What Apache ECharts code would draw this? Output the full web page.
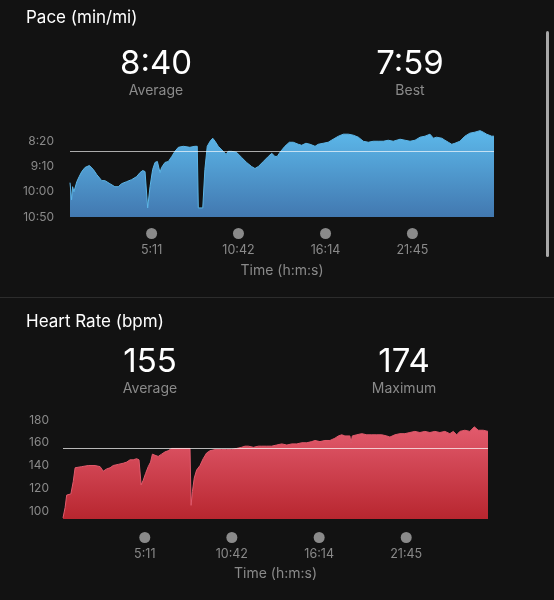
<!DOCTYPE html>
<html>
<head>
<meta charset="utf-8">
<script src="https://cdn.jsdelivr.net/npm/echarts@6/dist/echarts.min.js"></script>
<style>
html,body{margin:0;padding:0;background:#121212;}
#c{width:554px;height:600px;}
</style>
</head>
<body>
<div id="c"></div>
<script>
// ---- data (seconds) ----
const timeTicks = [311, 642, 974, 1305];
const paceTicks = [500, 550, 600, 650];
const hrTicks = [100, 120, 140, 160, 180];
const duration = 1616;

const paceTime = [0,6,10,15,26,35,45,57,74,89,102,121,133,152,171,184,197,216,235,254,267,277,286,292,296,305,315,324,333,343,349,362,375,388,400,413,432,457,476,485,489,506,508,514,523,534,544,553,565,584,595,603,616,635,654,673,692,705,718,737,756,769,781,790,800,819,836,851,870,883,899,915,934,946,965,984,1003,1023,1042,1061,1080,1099,1118,1137,1156,1175,1194,1213,1232,1258,1277,1296,1315,1334,1353,1372,1385,1397,1417,1429,1442,1455,1467,1486,1505,1524,1543,1563,1575,1588,1607,1616];
const paceSec = [582,616,590,600,580,570,560,552,548,556,566,578,578,584,590,590,584,580,576,570,562,558,560,560,632,590,556,542,540,562,552,542,540,530,520,512,510,512,510,510,632,632,632,556,510,500,494,500,510,520,526,520,520,522,532,542,550,554,550,540,530,524,530,530,522,510,502,502,506,508,504,506,510,506,504,502,496,490,486,486,488,492,500,502,500,500,500,498,500,496,498,500,498,492,490,486,494,492,494,498,502,506,504,500,490,484,482,479,482,486,490,490];
const paceAvg = 520;

const hrTime = [0,8,14,20,30,39,46,52,71,96,122,141,153,166,179,191,210,229,242,255,267,280,289,297,305,314,324,333,340,350,362,375,388,400,413,426,445,483,487,492,499,508,521,533,546,559,578,603,622,641,660,679,692,705,724,743,755,774,793,812,832,851,870,889,908,927,946,958,977,996,1015,1034,1047,1060,1072,1091,1095,1100,1117,1136,1155,1174,1193,1212,1231,1243,1262,1281,1300,1319,1338,1357,1376,1395,1414,1433,1452,1471,1484,1497,1509,1528,1547,1564,1579,1598,1616];
const hrBpm = [94,103,114,115,115,126,138,139,139,140,140,139,135,137,138,140,141,142,143,145,145,146,145,123,127,133,139,143,150,149,148,150,152,153,155,155,155,155,105,117,129,136,140,146,151,153,154,154,154,154,155,156,157,157,156,157,157,157,157,158,159,158,159,159,160,160,161,162,161,162,162,164,166,167,166,166,160,166,167,168,167,167,167,167,166,165,167,168,168,169,170,169,170,169,170,169,170,168,170,167,170,171,170,174,171,171,170];
const hrAvg = 155;

function pad(n){ return (n<10?'0':'') + n; }
function mmss(v){ v = Math.round(v); return Math.floor(v/60) + ':' + pad(v%60); }

const grey = '#8a8a8a';
const FONT = 'Inter, "Noto Sans", sans-serif';

function xAxisCfg(gridIndex, margin, gap){
  return {
    type:'value', gridIndex, min:0, max:duration,
    axisLine:{show:false}, axisTick:{show:false}, splitLine:{show:false},
    name:'Time (h:m:s)', nameLocation:'middle', nameGap: gap,
    nameTextStyle:{color:grey, fontSize:14, fontFamily:FONT},
    axisLabel:{
      customValues: timeTicks, margin: margin,
      formatter: v => '{d|}\n{t|' + mmss(v) + '}',
      rich:{
        d:{width:11, height:11, lineHeight:15, borderRadius:6, backgroundColor:grey},
        t:{color:grey, fontSize:12.5, lineHeight:18, fontFamily:FONT}
      }
    }
  };
}

const chart = echarts.init(document.getElementById('c'), null, {renderer:'canvas'});
const option = {
  backgroundColor:'#121212',
  animation:false,
  grid:[
    {left:70, width:424, top:116, height:101},
    {left:63, width:425, top:420, height:99}
  ],
  xAxis:[xAxisCfg(0, 9, 47), xAxisCfg(1, 11, 48)],
  yAxis:[
    {type:'value', gridIndex:0, inverse:true, min:450, max:650, interval:50,
     axisLine:{show:false}, axisTick:{show:false}, splitLine:{show:false},
     axisLabel:{color:grey, fontSize:12, margin:16, fontFamily:FONT,
       formatter: v => v===450 ? '' : mmss(v)}},
    {type:'value', gridIndex:1, min:93, max:180,
     axisLine:{show:false}, axisTick:{show:false}, splitLine:{show:false},
     axisLabel:{color:grey, fontSize:12, margin:14, fontFamily:FONT, customValues: hrTicks}}
  ],
  series:[
    {type:'line', xAxisIndex:0, yAxisIndex:0, symbol:'none',
     data: paceTime.map((t,i)=>[t, paceSec[i]]),
     lineStyle:{width:1, color:'#5cb6e8'},
     areaStyle:{origin:'end', opacity:1,
       color:new echarts.graphic.LinearGradient(0,0,0,1,[{offset:0,color:'#5cb8ea'},{offset:1,color:'#4278b0'}])},
     markLine:{silent:true, symbol:'none', label:{show:false},
       lineStyle:{color:'rgba(255,255,255,0.65)', width:1, type:'solid'},
       data:[{yAxis:paceAvg}]}
    },
    {type:'line', xAxisIndex:1, yAxisIndex:1, symbol:'none',
     data: hrTime.map((t,i)=>[t, hrBpm[i]]),
     lineStyle:{width:1, color:'#e05a6c'},
     areaStyle:{origin:'start', opacity:1,
       color:new echarts.graphic.LinearGradient(0,0,0,1,[{offset:0,color:'#e25b6d'},{offset:1,color:'#b8262f'}])},
     markLine:{silent:true, symbol:'none', label:{show:false},
       lineStyle:{color:'rgba(255,255,255,0.7)', width:1, type:'solid'},
       data:[{yAxis:hrAvg}]}
    }
  ],
  graphic:[
    {type:'text', x:26, y:18, style:{text:'Pace (min/mi)', fill:'#fff', font:'17px '+FONT, verticalAlign:'middle'}},
    {type:'text', x:156, y:64, style:{text:'8:40', fill:'#fff', font:'33px '+FONT, align:'center', verticalAlign:'middle'}},
    {type:'text', x:156, y:91, style:{text:'Average', fill:grey, font:'14px '+FONT, align:'center', verticalAlign:'middle'}},
    {type:'text', x:410, y:64, style:{text:'7:59', fill:'#fff', font:'33px '+FONT, align:'center', verticalAlign:'middle'}},
    {type:'text', x:410, y:91, style:{text:'Best', fill:grey, font:'14px '+FONT, align:'center', verticalAlign:'middle'}},
    {type:'rect', shape:{x:0, y:297, width:554, height:1}, style:{fill:'#2c2c2c'}},
    {type:'rect', shape:{x:546, y:31, width:3, height:226, r:1.5}, style:{fill:'#a8a8a8'}},
    {type:'text', x:26, y:322, style:{text:'Heart Rate (bpm)', fill:'#fff', font:'17px '+FONT, verticalAlign:'middle'}},
    {type:'text', x:150, y:362, style:{text:'155', fill:'#fff', font:'33px '+FONT, align:'center', verticalAlign:'middle'}},
    {type:'text', x:150, y:389, style:{text:'Average', fill:grey, font:'14px '+FONT, align:'center', verticalAlign:'middle'}},
    {type:'text', x:404, y:362, style:{text:'174', fill:'#fff', font:'33px '+FONT, align:'center', verticalAlign:'middle'}},
    {type:'text', x:404, y:389, style:{text:'Maximum', fill:grey, font:'14px '+FONT, align:'center', verticalAlign:'middle'}}
  ]
};
chart.setOption(option);
</script>
</body>
</html>
